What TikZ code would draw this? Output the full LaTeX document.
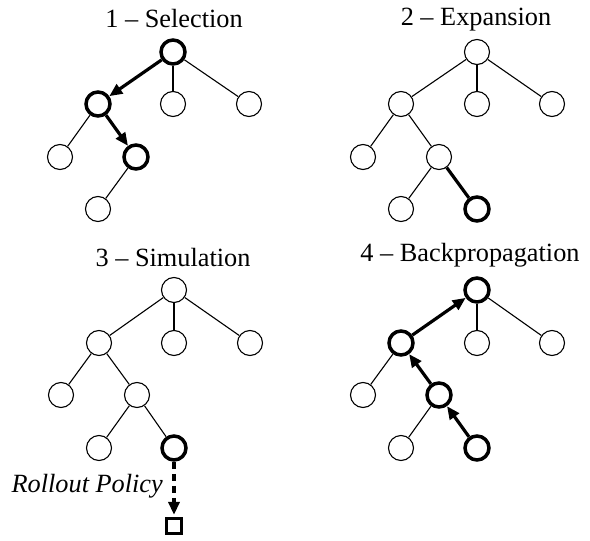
\documentclass[tikz,border=0pt]{standalone}
\usepackage{fontspec}
\setmainfont{Liberation Serif}
\usetikzlibrary{arrows.meta}
\begin{document}
\begin{tikzpicture}[x=1pt,y=-1pt,
  nd/.style={circle,draw,line width=1.1pt,minimum size=25pt,inner sep=0pt,fill=white},
  bnd/.style={nd,line width=3.5pt,minimum size=24pt},
  edg/.style={line width=1.1pt},
  bedg/.style={line width=3.2pt},
  barr/.style={line width=3.2pt,-{Triangle[length=13pt,width=11pt]}},
  darr/.style={line width=4pt,dash pattern=on 7pt off 5pt,-{Triangle[length=13pt,width=11pt]},shorten >=2pt},
  ttl/.style={font=\fontsize{26.3}{30}\selectfont,anchor=base,inner sep=0pt},
  leaf/.style={rectangle,draw,line width=3.2pt,minimum size=15pt,inner sep=0pt}
]
\useasboundingbox (0,0) rectangle (590,541);

% Panel 1 - Selection
\begin{scope}[shift={(173,52)}]
  \node[bnd] (a0) at (0,0) {};
  \node[bnd] (aL) at (-75,52) {};
  \node[nd] (aM) at (0,52) {};
  \node[nd] (aR) at (76,52) {};
  \node[nd] (aLL) at (-113,105) {};
  \node[bnd] (aLR) at (-37,105) {};
  \node[nd] (aLRL) at (-75,157) {};
\end{scope}
\draw[barr] (a0) -- (aL);
\draw[edg] (a0) -- (aM);
\draw[edg] (a0) -- (aR);
\draw[edg] (aL) -- (aLL);
\draw[barr] (aL) -- (aLR);
\draw[edg] (aLR) -- (aLRL);
\node[ttl] (t1) at (174,27) {1 -- Selection};

% Panel 2 - Expansion
\begin{scope}[shift={(477,52)}]
  \node[nd] (b0) at (0,0) {};
  \node[nd] (bL) at (-76,52) {};
  \node[nd] (bM) at (0,52) {};
  \node[nd] (bR) at (75,52) {};
  \node[nd] (bLL) at (-114,105) {};
  \node[nd] (bLR) at (-38,105) {};
  \node[nd] (bLRL) at (-76,157) {};
  \node[bnd] (bLRR) at (0,157) {};
\end{scope}
\draw[edg] (b0) -- (bL);
\draw[edg] (b0) -- (bM);
\draw[edg] (b0) -- (bR);
\draw[edg] (bL) -- (bLL);
\draw[edg] (bL) -- (bLR);
\draw[edg] (bLR) -- (bLRL);
\draw[bedg] (bLR) -- (bLRR);
\node[ttl] (t2) at (476,25) {2 -- Expansion};

% Panel 3 - Simulation
\begin{scope}[shift={(174,290)}]
  \node[nd] (c0) at (0,0) {};
  \node[nd] (cL) at (-75,53) {};
  \node[nd] (cM) at (0,53) {};
  \node[nd] (cR) at (76,53) {};
  \node[nd] (cLL) at (-113,105) {};
  \node[nd] (cLR) at (-37,105) {};
  \node[nd] (cLRL) at (-75,158) {};
  \node[bnd] (cLRR) at (0,158) {};
  \node[leaf] (cS) at (0,236) {};
\end{scope}
\draw[edg] (c0) -- (cL);
\draw[edg] (c0) -- (cM);
\draw[edg] (c0) -- (cR);
\draw[edg] (cL) -- (cLL);
\draw[edg] (cL) -- (cLR);
\draw[edg] (cLR) -- (cLRL);
\draw[edg] (cLR) -- (cLRR);
\draw[darr] (cLRR) -- (cS);
\node[ttl] (t3) at (173,266) {3 -- Simulation};
\node[ttl,anchor=base east,font=\fontsize{26.3}{30}\selectfont\itshape] (rp) at (163,492) {Rollout Policy};

% Panel 4 - Backpropagation
\begin{scope}[shift={(477,290)}]
  \node[bnd] (d0) at (0,0) {};
  \node[bnd] (dL) at (-76,53) {};
  \node[nd] (dM) at (0,53) {};
  \node[nd] (dR) at (75,53) {};
  \node[nd] (dLL) at (-114,105) {};
  \node[bnd] (dLR) at (-38,105) {};
  \node[nd] (dLRL) at (-76,158) {};
  \node[bnd] (dLRR) at (0,158) {};
\end{scope}
\draw[barr] (dL) -- (d0);
\draw[edg] (d0) -- (dM);
\draw[edg] (d0) -- (dR);
\draw[edg] (dL) -- (dLL);
\draw[barr] (dLR) -- (dL);
\draw[edg] (dLR) -- (dLRL);
\draw[barr] (dLRR) -- (dLR);
\node[ttl] (t4) at (470,261) {4 -- Backpropagation};
\end{tikzpicture}
\end{document}
